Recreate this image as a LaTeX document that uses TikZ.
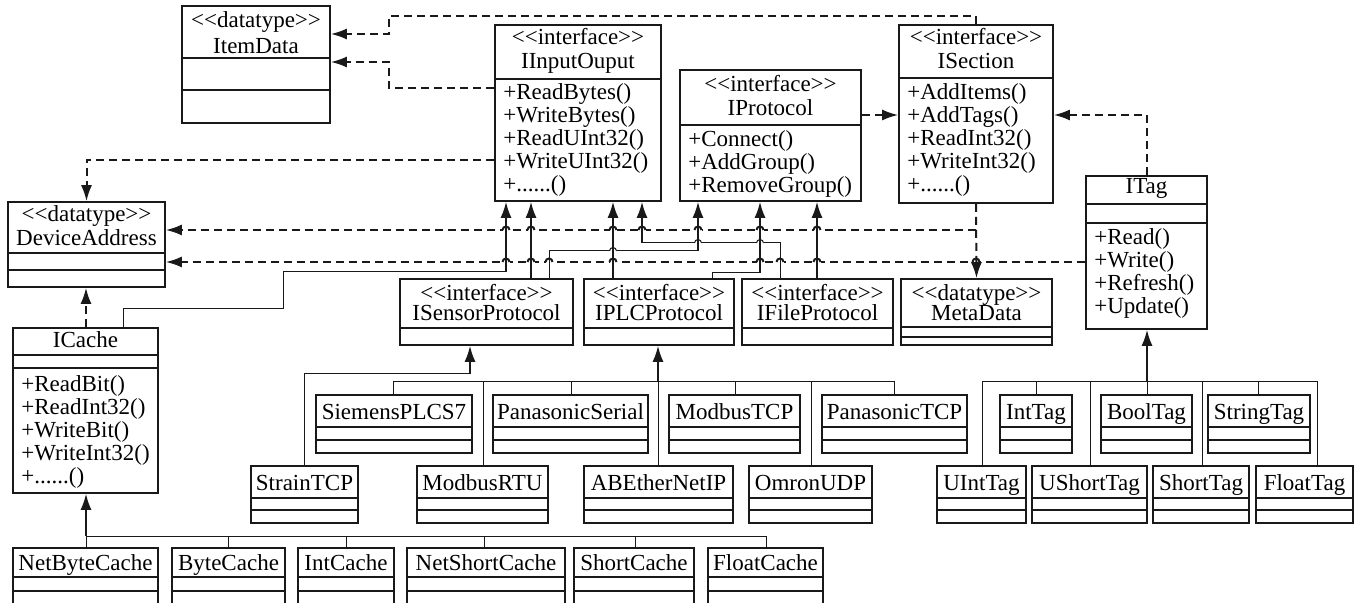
\documentclass[tikz,border=0pt]{standalone}
\usepackage{fontspec}
\setmainfont{Liberation Serif}
\usetikzlibrary{arrows.meta,fit}

% little jump of a line over a crossing one
\newcommand{\hopover}[3][1pt]{%
  \fill[white] (#2-3.5,#3-2.5) rectangle (#2+3.5,#3+2.5);
  \draw[black!90, line width=#1] (#2-3.5,#3) arc[start angle=180,end angle=360,radius=3.5];
}
\newcommand{\moreops}{+......()}
\newcommand{\stereo}[1]{<{}<#1>{}>}

\begin{document}
\begin{tikzpicture}[%
    x=0.5pt, y=-0.5pt,
    font=\fontsize{11.5}{13}\selectfont,
    box/.style={
      draw=black!90,
      line width=0.8pt,
      inner sep=0pt
    },
    sep/.style={
      draw=black!90,
      line width=0.8pt
    },
    ttl/.style={anchor=base, inner sep=0pt},
    mth/.style={anchor=base west, inner sep=0pt},
    bus/.style={
      draw=black!90,
      line width=0.5pt
    },
    inh/.style={
      draw=black!90,
      line width=0.9pt,
      -{Latex[length=8pt,width=5.5pt]}
    },
    dep/.style={
      draw=black!90,
      line width=1pt,
      dash pattern=on 4pt off 2.5pt,
      -{Latex[length=8pt,width=5.5pt]}
    }
  ]
  \useasboundingbox (0,0) rectangle (1364,603);

  % data types
  \node[box, fit={(182,6) (330,123)}] (ItemData) {};
  \draw[sep] (182,58) -- (330,58) (182,90) -- (330,90);
  \node[ttl] at (256,28) {\stereo{datatype}};
  \node[ttl] at (256,54) {ItemData};

  \node[box, fit={(8,202) (165,287)}] (DeviceAddress) {};
  \draw[sep] (8,253) -- (165,253) (8,270) -- (165,270);
  \node[ttl] at (86.5,222) {\stereo{datatype}};
  \node[ttl] at (86.5,246) {DeviceAddress};

  \node[box, fit={(901,279) (1052,345)}] (MetaData) {};
  \draw[sep] (901,327) -- (1052,327) (901,337) -- (1052,337);
  \node[ttl] at (976.5,301) {\stereo{datatype}};
  \node[ttl] at (976.5,321) {MetaData};

  % interfaces
  \node[box, fit={(495,25) (661,201)}] (IInputOuput) {};
  \draw[sep] (495,79) -- (661,79);
  \node[ttl] at (578,45) {\stereo{interface}};
  \node[ttl] at (578,69) {IInputOuput};
  \foreach \t [count=\i] in {+ReadBytes(),+WriteBytes(),+ReadUInt32(),+WriteUInt32(),\moreops}
    \node[mth] at (503,{77+23*\i}) {\t};

  \node[box, fit={(680,70) (861,201)}] (IProtocol) {};
  \draw[sep] (680,125) -- (861,125);
  \node[ttl] at (770.5,92) {\stereo{interface}};
  \node[ttl] at (770.5,116) {IProtocol};
  \foreach \t [count=\i] in {+Connect(),+AddGroup(),+RemoveGroup()}
    \node[mth] at (688,{124+23*\i}) {\t};

  \node[box, fit={(899,25) (1053,203)}] (ISection) {};
  \draw[sep] (899,78) -- (1053,78);
  \node[ttl] at (976,45) {\stereo{interface}};
  \node[ttl] at (976,69) {ISection};
  \foreach \t [count=\i] in {+AddItems(),+AddTags(),+ReadInt32(),+WriteInt32(),\moreops}
    \node[mth] at (907,{77+23*\i}) {\t};

  \node[box, fit={(1086,176) (1207,329)}] (ITag) {};
  \draw[sep] (1086,204) -- (1207,204) (1086,223) -- (1207,223);
  \node[ttl] at (1146.5,194) {ITag};
  \foreach \t [count=\i] in {+Read(),+Write(),+Refresh(),+Update()}
    \node[mth] at (1094,{222+23*\i}) {\t};

  \node[box, fit={(13,328) (158,493)}] (ICache) {};
  \draw[sep] (13,355) -- (158,355) (13,368) -- (158,368);
  \node[ttl] at (85.5,348) {ICache};
  \foreach \t [count=\i] in {+ReadBit(),+ReadInt32(),+WriteBit(),+WriteInt32(),\moreops}
    \node[mth] at (21,{369+23*\i}) {\t};

  \foreach \n/\l/\r in {ISensorProtocol/400/573, IPLCProtocol/584/734, IFileProtocol/742/893} {
    \node[box, fit={(\l,279) (\r,345)}] (\n) {};
    \draw[sep] (\l,328) -- (\r,328);
    \node[ttl] at ({(\l+\r)/2},301) {\stereo{interface}};
    \node[ttl] at ({(\l+\r)/2},321) {\n};
  }

  % classes
  \foreach \n/\l/\r in {SiemensPLCS7/316/472, PanasonicSerial/493/648, ModbusTCP/669/800,
      PanasonicTCP/822/967, IntTag/1000/1072, BoolTag/1101/1192, StringTag/1208/1310} {
    \node[box, fit={(\l,395) (\r,453)}] (\n) {};
    \draw[sep] (\l,427) -- (\r,427) (\l,440) -- (\r,440);
    \node[ttl] at ({(\l+\r)/2},420) {\n};
  }
  \foreach \n/\l/\r in {StrainTCP/251/358, ModbusRTU/417/548, ABEtherNetIP/584/733, OmronUDP/749/872,
      UIntTag/937/1026, UShortTag/1032/1147, ShortTag/1153/1249, FloatTag/1256/1353} {
    \node[box, fit={(\l,466) (\r,523)}] (\n) {};
    \draw[sep] (\l,498) -- (\r,498) (\l,510) -- (\r,510);
    \node[ttl] at ({(\l+\r)/2},491) {\n};
  }
  \foreach \n/\l/\r in {NetByteCache/13/158, ByteCache/172/285, IntCache/298/394,
      NetShortCache/407/565, ShortCache/574/694, FloatCache/708/823} {
    \node[box, fit={(\l,548) (\r,606)}] (\n) {};
    \draw[sep] (\l,577) -- (\r,577) (\l,591) -- (\r,591);
    \node[ttl] at ({(\l+\r)/2},570) {\n};
  }

  % dependencies
  \draw[dep] (IInputOuput.west |- 0,88) -| (389,62) -- (ItemData.east |- 0,62);
  \draw[dep] (ISection.north) -- (976,16) -| (389,34) -- (ItemData.east |- 0,34);
  \draw[dep] (IInputOuput.west |- 0,160) -| (DeviceAddress.north);
  \draw[dep] (IProtocol.east |- 0,115) -- (ISection.west |- 0,115);
  \draw[dep] (ITag.north) |- (ISection.east |- 0,115);
  \draw[dep] (ISection.south) |- (DeviceAddress.east |- 0,230);
  \draw[dep] (ITag.west |- 0,262) -- (DeviceAddress.east |- 0,262);
  \draw[dep] (ICache.north -| 86,0) -- (DeviceAddress.south -| 86,0);
  \foreach \x in {506,531,613,642,698,760,817} {\hopover{\x}{230}}
  \foreach \x in {506,531,549,613,760,780,817,976} {\hopover{\x}{262}}
  \draw[dep] (ISection.south) -- (MetaData.north);

  % generalisations between the interfaces
  \coordinate (cacheup) at (506,272);
  \coordinate (sensup) at (698,251);
  \coordinate (plcup) at (760,273);
  \coordinate (fileup) at (642,243);
  \draw[bus] (IFileProtocol.north -| 780,0) |- (fileup);
  \hopover[0.5pt]{698}{243}
  \hopover[0.5pt]{760}{243}
  \draw[bus] (ISensorProtocol.north -| 549,0) |- (sensup);
  \hopover[0.5pt]{613}{251}
  \draw[bus] (IPLCProtocol.north -| 712,0) |- (plcup);
  \draw[bus] (ICache.north -| 123,0) |- (283,309) |- (cacheup);
  \draw[inh] (fileup) -- (IInputOuput.south -| fileup);
  \draw[inh] (sensup) -- (IProtocol.south -| sensup);
  \draw[inh] (plcup) -- (IProtocol.south -| plcup);
  \draw[inh] (cacheup) -- (IInputOuput.south -| cacheup);
  \draw[inh] (ISensorProtocol.north -| 531,0) -- (IInputOuput.south -| 531,0);
  \draw[inh] (IPLCProtocol.north -| 613,0) -- (IInputOuput.south -| 613,0);
  \draw[inh] (IFileProtocol.north -| 817,0) -- (IProtocol.south -| 817,0);

  % generalisations of the classes
  \coordinate (sensbus) at (470,374);
  \coordinate (plcbus) at (658,382);
  \coordinate (tagbus) at (1147,382);
  \coordinate (cachebus) at (86,536);

  \draw[bus] (StrainTCP.north -| 304,0) |- (sensbus);
  \draw[inh] (sensbus) -- (ISensorProtocol.south -| sensbus);

  \draw[bus] (SiemensPLCS7.north -| 393,0) -- (393,382) -- (894,382) -- (PanasonicTCP.north -| 894,0);
  \foreach \n/\x in {ModbusRTU/483, PanasonicSerial/571, ABEtherNetIP/658, ModbusTCP/735, OmronUDP/811}
    \draw[bus] (\n.north -| \x,0) -- (\x,382);
  \draw[inh] (plcbus) -- (IPLCProtocol.south -| plcbus);

  \draw[bus] (UIntTag.north -| 982,0) -- (982,382) -- (1317,382) -- (FloatTag.north -| 1317,0);
  \foreach \n/\x in {IntTag/1036, UShortTag/1090, BoolTag/1147, ShortTag/1202, StringTag/1258}
    \draw[bus] (\n.north -| \x,0) -- (\x,382);
  \draw[inh] (tagbus) -- (ITag.south -| tagbus);

  \draw[bus] (NetByteCache.north -| 86,0) -- (86,536) -- (766,536) -- (FloatCache.north -| 766,0);
  \foreach \n/\x in {ByteCache/228, IntCache/346, NetShortCache/484, ShortCache/635}
    \draw[bus] (\n.north -| \x,0) -- (\x,536);
  \draw[inh] (cachebus) -- (ICache.south -| cachebus);
\end{tikzpicture}
\end{document}
